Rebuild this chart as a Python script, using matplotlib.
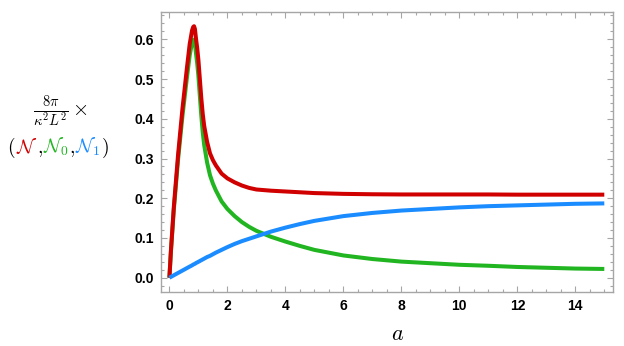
import numpy as np
import matplotlib
matplotlib.use("Agg")
import matplotlib.pyplot as plt
from matplotlib.ticker import MultipleLocator

plt.rcParams['font.family'] = ['Liberation Sans', 'DejaVu Sans']
plt.rcParams['mathtext.fontset'] = 'cm'

# Data
a_vals = [0, 0.05, 0.15, 0.3, 0.45, 0.6, 0.7, 0.78, 0.82, 0.85, 0.88, 0.92, 0.96, 1.0,
          1.05, 1.1, 1.15, 1.2, 1.3, 1.4, 1.5, 1.6, 1.8, 2.0, 2.25, 2.5, 2.75, 3.0,
          3.5, 4, 4.5, 5, 6, 7, 8, 9, 10, 11, 12, 13, 14, 15]
N_total = [0, 0.065, 0.175, 0.310, 0.425, 0.525, 0.588, 0.622, 0.631, 0.633, 0.626, 0.600,
           0.577, 0.548, 0.500, 0.452, 0.412, 0.382, 0.342, 0.313, 0.296, 0.283, 0.262,
           0.250, 0.240, 0.232, 0.226, 0.222, 0.219, 0.217, 0.215, 0.213, 0.211, 0.2100,
           0.2095, 0.2095, 0.2095, 0.2095, 0.209, 0.209, 0.209, 0.209]
N0 = [0, 0.063, 0.169, 0.298, 0.407, 0.501, 0.560, 0.591, 0.598, 0.599, 0.590, 0.563,
      0.539, 0.508, 0.458, 0.408, 0.366, 0.334, 0.290, 0.258, 0.237, 0.220, 0.192,
      0.173, 0.155, 0.140, 0.128, 0.118, 0.103, 0.091, 0.080, 0.070, 0.056, 0.047,
      0.0405, 0.0365, 0.0325, 0.030, 0.027, 0.025, 0.023, 0.022]
N1 = [0, 0.002, 0.006, 0.012, 0.018, 0.024, 0.028, 0.031, 0.033, 0.034, 0.035, 0.037,
      0.0385, 0.040, 0.042, 0.044, 0.046, 0.048, 0.052, 0.055, 0.059, 0.063, 0.070,
      0.077, 0.085, 0.092, 0.098, 0.104, 0.116, 0.126, 0.135, 0.143, 0.155, 0.163,
      0.169, 0.173, 0.177, 0.180, 0.182, 0.184, 0.186, 0.187]
x_ticks = [0, 2, 4, 6, 8, 10, 12, 14]
y_ticks = [0.0, 0.1, 0.2, 0.3, 0.4, 0.5, 0.6]
y_tick_labels = ["0.0", "0.1", "0.2", "0.3", "0.4", "0.5", "0.6"]

RED = '#D00000'
GREEN = '#21B521'
BLUE = '#1A8CFF'
FRAME = '#A6A6A6'

fig = plt.figure(figsize=(6.24, 3.46), dpi=100)
ax = fig.add_axes([160.7/624, 1-292/346, (613-160.7)/624, (292-11.7)/346])

lw = 2.9
ax.plot(a_vals, N0, color=GREEN, lw=lw, solid_joinstyle='round', solid_capstyle='butt', zorder=3)
ax.plot(a_vals, N_total, color=RED, lw=lw, solid_joinstyle='round', solid_capstyle='butt', zorder=4)
ax.plot(a_vals, N1, color=BLUE, lw=lw, solid_joinstyle='round', solid_capstyle='butt', zorder=5)

ax.set_xlim(-0.3, 15.3)
ax.set_ylim(-0.036, 0.6695)

ax.set_xticks(x_ticks)
ax.set_yticks(y_ticks)
ax.set_yticklabels(y_tick_labels)
ax.xaxis.set_minor_locator(MultipleLocator(0.5))
ax.yaxis.set_minor_locator(MultipleLocator(0.02))
ax.tick_params(which='both', direction='in', top=True, right=True, color=FRAME, width=0.8)
ax.tick_params(which='major', length=4.0)
ax.tick_params(which='minor', length=2.2)
ax.tick_params(axis='both', which='major', labelsize=10, pad=5)
for lab in ax.get_xticklabels() + ax.get_yticklabels():
    lab.set_fontweight('bold')
for s in ax.spines.values():
    s.set_color(FRAME)
    s.set_linewidth(1.0)

# x label
fig.text(398/624, 1-335/346, r'$a$', fontsize=16, ha='center', va='center')

# y label, line 1
fig.text(60/624, 1-112/346, r'$\frac{8\pi}{\kappa^2 L^2}\times$', fontsize=15,
         ha='center', va='center')

# y label, line 2 (colored pieces)
pieces = [(r'$($', 'black', 0.5), (r'$\mathcal{N}$', RED, -1.0), (r'$,$', 'black', 0.5),
          (r'$\mathcal{N}_0$', GREEN, 0.0), (r'$,$', 'black', 0.5),
          (r'$\mathcal{N}_1$', BLUE, 0.5), (r'$)$', 'black', 0.0)]
renderer = fig.canvas.get_renderer()
x_px = 7.0
y_px = 346 - 153
for txt, col, gap in pieces:
    t = fig.text(x_px/624, y_px/346, txt, fontsize=14, color=col, ha='left', va='baseline')
    bb = t.get_window_extent(renderer=renderer)
    x_px += bb.width + gap

fig.savefig('out.png', dpi=100)
